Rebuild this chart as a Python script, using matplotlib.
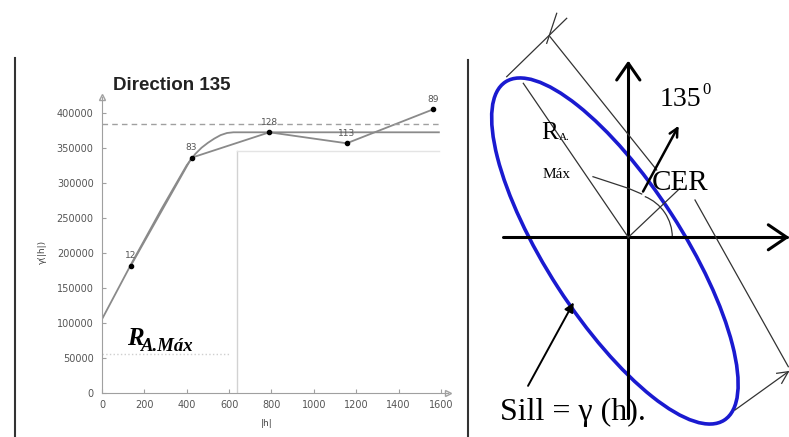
import numpy as np
import matplotlib.pyplot as plt
from matplotlib.patches import Ellipse, Arc
from matplotlib.lines import Line2D

# experimental variogram, direction 135
lag = [135, 423, 790, 1155, 1564]
gamma = [181000, 335700, 372000, 356300, 404900]
npairs = ["12", "83", "128", "113", "89"]

# fitted model (nugget ~105000, sill ~372000)
model_h = [0, 140, 280, 400, 440, 470, 500, 530, 560, 590, 620, 650, 1590]
model_g = [105000, 185000, 262000, 325000, 341000, 350000, 357000, 363000,
           368000, 371000, 372000, 372000, 372000]
sill_dash = 383400
range_max = 635

xticks = list(range(0, 1601, 200))
yticks = list(range(0, 400001, 50000))

W, H = 789, 437
fig = plt.figure(figsize=(W / 100, H / 100), dpi=100)

# ---------------- left: variogram ----------------
ax = fig.add_axes([102 / W, (H - 392.7) / H, 346.4 / W, 296.1 / H])
ax.set_xlim(0, 1635)
ax.set_ylim(0, 423000)
gray = "#8a8a8a"
ax.plot(model_h, model_g, color=gray, lw=1.3)
ax.plot(lag, gamma, color=gray, lw=1.3)
ax.plot(lag, gamma, "o", color="black", ms=3)
for x, y, n in zip(lag, gamma, npairs):
    ax.annotate(n, (x, y), xytext=(0, 4), textcoords="offset points",
                ha="center", va="bottom", fontsize=6.5, color="#555")
ax.plot([0, 1590], [sill_dash, sill_dash], color="#a0a0a0", lw=1, ls=(0, (4, 3)))
ax.plot([range_max, range_max], [0, 345300], color="#d2d2d2", lw=1)
ax.plot([range_max, 1590], [345300, 345300], color="#e4e4e4", lw=1)
ax.plot([0, 600], [54800, 54800], color="#cfcfcf", lw=1, ls=":")

for s in ["top", "right"]:
    ax.spines[s].set_visible(False)
for s in ["left", "bottom"]:
    ax.spines[s].set_color("#a0a0a0")
ax.set_xticks(xticks)
ax.set_yticks(yticks)
ax.set_yticklabels([str(v) for v in yticks])
ax.tick_params(direction="in", length=3, color="#a0a0a0", labelcolor="#555",
               labelsize=7)
ax.tick_params(axis="y", pad=6)
ax.tick_params(axis="x", pad=5)
ax.plot(1635, 0, marker=">", ms=5, mfc="white", mec="#a0a0a0", clip_on=False)
ax.plot(0, 423000, marker="^", ms=5, mfc="white", mec="#a0a0a0", clip_on=False)

fig.text(113 / W, 1 - 85 / H, "Direction 135", fontsize=13.5, fontweight="bold",
         color="#222", va="center", family="Liberation Sans")
fig.text(42 / W, 1 - 252 / H, "γ(|h|)", rotation=90, fontsize=6.5, color="#444",
         ha="center", va="center")
fig.text(267 / W, 1 - 423 / H, "|h|", fontsize=6.5, color="#444",
         ha="center", va="center")
fig.text(127 / W, 1 - 345 / H, "R", fontsize=18, fontweight="bold",
         style="italic", family="Liberation Serif", va="baseline")
fig.text(141 / W, 1 - 351 / H, "A.Máx", fontsize=13.5, fontweight="bold",
         style="italic", family="Liberation Serif", va="baseline")

# panel frame lines
fig.add_artist(Line2D([14.5 / W] * 2, [0, 1 - 58 / H], transform=fig.transFigure,
                      color="#333", lw=1.5))
fig.add_artist(Line2D([468 / W] * 2, [0, 1 - 60 / H], transform=fig.transFigure,
                      color="#333", lw=1.5))

# ---------------- right: anisotropy ellipse ----------------
# coordinates in pixels relative to the axes cross
rx = fig.add_axes([470 / W, 0, 319 / W, 1])
rx.set_xlim(-158.3, 160.7)
rx.set_ylim(-199.7, 237.3)
rx.axis("off")

ell_center = (-13.4, -13.7)
ell_w, ell_h, ell_ang = 402.8, 135.2, 122.9

thin = dict(color="#333", lw=0.9)
k = dict(color="black", lw=2.2, solid_capstyle="round")

# axes with open arrow heads
rx.plot([0, 0], [-180.7, 174], **k)
rx.plot([-11.6, 0, 11.6], [157.3, 174, 157.3], **k)
rx.plot([-125.3, 158.4], [0, 0], **k)
rx.plot([140, 158.4, 140], [12.5, 0, -12.5], **k)

rx.add_patch(Ellipse(ell_center, ell_w, ell_h, angle=ell_ang, fill=False,
                     edgecolor="#1a1ad0", lw=2.6))

# dimension lines
rx.plot([-121.6, -61.6], [160.6, 219], **thin)
rx.plot([-71.6, -81.6], [224, 194], **thin)
rx.plot([-78.3, 28.4], [200.6, 67.3], **thin)
rx.plot([66.7, 160], [37.3, -129.4], **thin)
rx.plot([106.7, 160], [-172.7, -134.4], **thin)
rx.plot([148.4, 160, 153.4], [-136, -134.4, -146], **thin)

# range line, angle construction
rx.plot([-105, 0], [154, 0], **thin)
rx.plot([0, 51.7], [0, 49], **thin)
rx.add_patch(Arc((0, 0), 88, 88, theta1=0, theta2=68, **thin))
rx.plot([-35.3, 0, 13.4], [60.6, 49, 43.3], **thin)
rx.annotate("", xy=(51.7, 114), xytext=(13.4, 43.3),
            arrowprops=dict(arrowstyle="->", color="black", lw=1.8,
                            mutation_scale=15))
rx.annotate("", xy=(-53.3, -62.7), xytext=(-101.6, -151),
            arrowprops=dict(arrowstyle="-|>", color="black", lw=1.4,
                            mutation_scale=14))

serif = "Liberation Serif"
rx.text(31.7, 131.3, "135", fontsize=20, family=serif, va="baseline")
rx.text(74, 143, "0", fontsize=12, family=serif, va="baseline")
rx.text(23.4, 47.3, "CER", fontsize=21, family=serif, va="baseline")
rx.text(-86.6, 98, "R", fontsize=18, family=serif, va="baseline")
rx.text(-69.5, 97, "A.", fontsize=8, family=serif, va="baseline")
rx.text(-85.5, 59.3, "Máx", fontsize=11, family=serif, va="baseline")
rx.text(-128.3, -182.7, "Sill = γ (h).", fontsize=23, family=serif,
        va="baseline")

fig.savefig("out.png", dpi=100)
